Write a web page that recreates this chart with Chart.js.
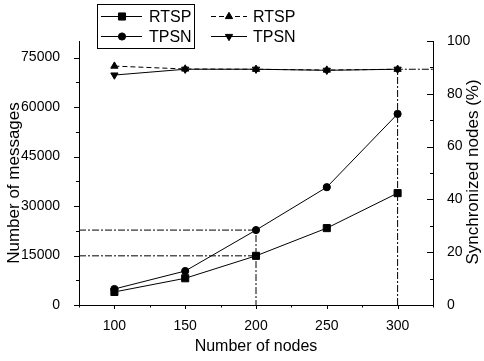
<!DOCTYPE html>
<html>
<head>
<meta charset="utf-8">
<script src="https://cdn.jsdelivr.net/npm/chart.js@4/dist/chart.umd.min.js"></script>
<style>
  html, body { margin: 0; padding: 0; background: #fff; }
  #wrap { width: 484px; height: 361px; }
</style>
</head>
<body>
<div id="wrap"><canvas id="syncChart" width="484" height="361"></canvas></div>
<script>
// data
const nodes = [100, 150, 200, 250, 300];
const msgRTSP = [3950, 8100, 14900, 23300, 33900];
const msgTPSN = [4850, 10300, 22700, 35700, 57900];
const syncRTSP = [90.5, 89.4, 89.3, 89.0, 89.3];
const syncTPSN = [87.1, 89.3, 89.3, 88.9, 89.3];

const nodeTicks = [100, 150, 200, 250, 300];
const msgTicks = [0, 15000, 30000, 45000, 60000, 75000];
const syncTicks = [0, 20, 40, 60, 80, 100];

// dash-dot guide lines drop from these nodes
const msgGuideNode = 200;
const syncGuideNode = 300;

const FONT = '"Liberation Sans", Arial, sans-serif';
const dashDot = [7, 2, 2, 2];

const xy = (xs, ys) => xs.map((x, i) => ({x: x, y: ys[i]}));

const gi = nodes.indexOf(msgGuideNode);
const si = nodes.indexOf(syncGuideNode);
const xMin = 75, xMax = 325;

const guideStyle = {
    borderColor: '#000', borderWidth: 1, borderDash: dashDot,
    pointRadius: 0, fill: false, tension: 0, order: 5
};

const datasets = [
    Object.assign({label: 'g1', yAxisID: 'y',
        data: [{x: xMin, y: msgTPSN[gi]}, {x: nodes[gi], y: msgTPSN[gi]}, {x: nodes[gi], y: 0}]}, guideStyle),
    Object.assign({label: 'g2', yAxisID: 'y',
        data: [{x: xMin, y: msgRTSP[gi]}, {x: nodes[gi], y: msgRTSP[gi]}]}, guideStyle),
    Object.assign({label: 'g3', yAxisID: 'y1',
        data: [{x: nodes[si], y: 0}, {x: nodes[si], y: syncTPSN[si]}, {x: xMax, y: syncTPSN[si]}]}, guideStyle),
    {label: 'RTSP', yAxisID: 'y', data: xy(nodes, msgRTSP), pointStyle: 'rect', pointRadius: 5},
    {label: 'TPSN', yAxisID: 'y', data: xy(nodes, msgTPSN), pointStyle: 'circle', pointRadius: 3.6},
    {label: 'RTSP', yAxisID: 'y1', data: xy(nodes, syncRTSP), pointStyle: 'triangle', pointRadius: 4.2, borderDash: [5, 3]},
    {label: 'TPSN', yAxisID: 'y1', data: xy(nodes, syncTPSN), pointStyle: 'triangle', pointRotation: 180, pointRadius: 4.2}
];
datasets.slice(3).forEach(d => {
    d.borderColor = '#000';
    d.backgroundColor = '#000';
    d.borderWidth = 1;
    d.pointBorderWidth = 1;
    d.tension = 0;
    d.fill = false;
    d.order = 1;
});

function drawMark(ctx, style, x, y, r, rot) {
    ctx.save();
    ctx.fillStyle = '#000';
    ctx.strokeStyle = '#000';
    ctx.lineWidth = 1;
    ctx.setLineDash([]);
    Chart.helpers.drawPoint(ctx, {pointStyle: style, rotation: rot || 0, radius: r, borderWidth: 1}, x, y);
    ctx.restore();
}

// tick marks: majors + minors, like the original plotting package
const tickMarks = {
    id: 'tickMarks',
    afterDatasetsDraw(chart) {
        const ctx = chart.ctx;
        const {x, y, y1} = chart.scales;
        const area = chart.chartArea;
        ctx.save();
        ctx.strokeStyle = '#000';
        ctx.lineWidth = 1;
        for (let v = xMin; v <= xMax; v += 25) {
            const px = Math.round(x.getPixelForValue(v)) + 0.5;
            const len = (v % 50 === 0) ? 4 : 2.5;
            ctx.beginPath(); ctx.moveTo(px, area.bottom); ctx.lineTo(px, area.bottom + len); ctx.stroke();
        }
        for (let v = 0; v <= 80000; v += 7500) {
            const py = Math.round(y.getPixelForValue(v)) + 0.5;
            const len = (v % 15000 === 0) ? 5 : 3;
            ctx.beginPath(); ctx.moveTo(area.left, py); ctx.lineTo(area.left - len, py); ctx.stroke();
        }
        for (let v = 0; v <= 100; v += 10) {
            const py = Math.round(y1.getPixelForValue(v)) + 0.5;
            const len = (v % 20 === 0) ? 6 : 3;
            ctx.beginPath(); ctx.moveTo(area.right, py); ctx.lineTo(area.right - len, py); ctx.stroke();
        }
        ctx.restore();
    }
};

// axis titles placed where the figure has them
const axisTitles = {
    id: 'axisTitles',
    afterDraw(chart) {
        const ctx = chart.ctx;
        ctx.save();
        ctx.fillStyle = '#000';
        ctx.textAlign = 'center';
        ctx.textBaseline = 'middle';
        ctx.font = '16px ' + FONT;
        ctx.fillText('Number of nodes', 256, 347);
        ctx.font = '17px ' + FONT;
        ctx.translate(14, 183);
        ctx.rotate(-Math.PI / 2);
        ctx.fillText('Number of messages', 0, 0);
        ctx.restore();
        ctx.save();
        ctx.fillStyle = '#000';
        ctx.textAlign = 'center';
        ctx.textBaseline = 'middle';
        ctx.font = '17px ' + FONT;
        ctx.translate(473, 172);
        ctx.rotate(-Math.PI / 2);
        ctx.fillText('Synchronized nodes (%)', 0, 0);
        ctx.restore();
    }
};

// two-column legend, first column boxed
const boxLegend = {
    id: 'boxLegend',
    afterDraw(chart) {
        const ctx = chart.ctx;
        const rows = [16.5, 36.5];
        const cols = [
            {x0: 101, x1: 142, mx: 122, tx: 149},
            {x0: 211, x1: 247, mx: 229, tx: 253}
        ];
        const items = chart.data.datasets.slice(3);
        ctx.save();
        ctx.strokeStyle = '#000';
        ctx.lineWidth = 1;
        ctx.strokeRect(97.5, 4.5, 97, 44);
        items.forEach((d, i) => {
            const c = cols[Math.floor(i / 2)];
            const r = rows[i % 2];
            ctx.setLineDash(d.borderDash || []);
            ctx.beginPath(); ctx.moveTo(c.x0, r); ctx.lineTo(c.x1, r); ctx.stroke();
            drawMark(ctx, d.pointStyle, c.mx, r, d.pointRadius, d.pointRotation);
            ctx.fillStyle = '#000';
            ctx.font = '16px ' + FONT;
            ctx.textAlign = 'left';
            ctx.textBaseline = 'middle';
            ctx.fillText(d.label, c.tx, r + 1);
        });
        ctx.restore();
    }
};

const tickFont = {family: FONT, size: 14};
const plain = v => String(v);

new Chart(document.getElementById('syncChart').getContext('2d'), {
    type: 'line',
    data: {datasets: datasets},
    options: {
        responsive: false,
        animation: false,
        events: [],
        layout: {padding: {top: 41}},
        plugins: {legend: {display: false}, tooltip: {enabled: false}},
        scales: {
            x: {
                type: 'linear', min: xMin, max: xMax,
                grid: {display: false},
                border: {display: true, color: '#000', width: 1},
                ticks: {font: tickFont, color: '#000', padding: 5, callback: plain},
                afterBuildTicks: s => { s.ticks = nodeTicks.map(v => ({value: v})); },
                afterFit: s => { s.height = 56; }
            },
            y: {
                position: 'left', min: 0, max: 80000,
                grid: {display: false},
                border: {display: true, color: '#000', width: 1},
                ticks: {font: tickFont, color: '#000', padding: 11, callback: plain},
                afterBuildTicks: s => { s.ticks = msgTicks.map(v => ({value: v})); },
                afterFit: s => { s.width = 79; }
            },
            y1: {
                position: 'right', min: 0, max: 100,
                grid: {display: false},
                border: {display: true, color: '#000', width: 1},
                ticks: {font: tickFont, color: '#000', padding: 6, callback: plain},
                afterBuildTicks: s => { s.ticks = syncTicks.map(v => ({value: v})); },
                afterFit: s => { s.width = 51; }
            }
        }
    },
    plugins: [tickMarks, axisTitles, boxLegend]
});
</script>
</body>
</html>
